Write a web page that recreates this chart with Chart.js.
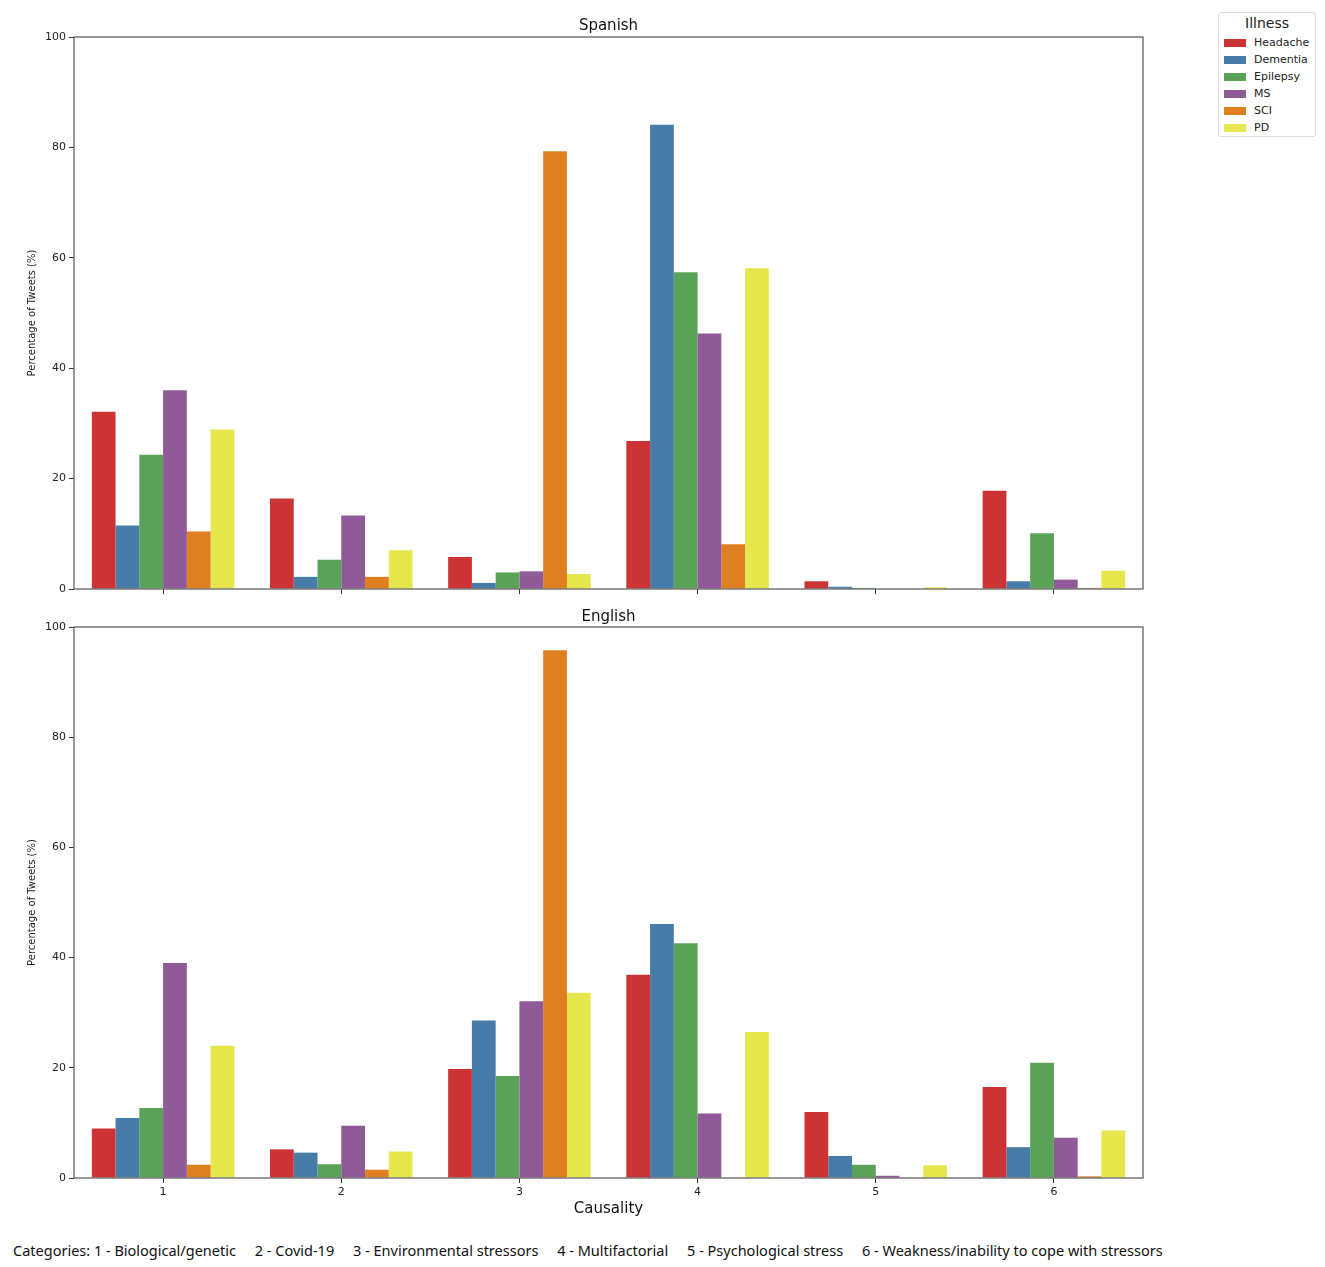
<!DOCTYPE html>
<html>
<head>
<meta charset="utf-8">
<script src="https://cdn.jsdelivr.net/npm/chart.js@4"></script>
<style>
  body { margin: 0; background: #fff; }
  #page { position: relative; width: 1325px; height: 1267px; font-family: "DejaVu Sans", sans-serif; }
  #topBox { position: absolute; left: 0; top: 0; width: 1160px; height: 600px; }
  #bottomBox { position: absolute; left: 0; top: 600px; width: 1160px; height: 622px; }
  #legend { position: absolute; left: 1218px; top: 12px; width: 98px; height: 125px; border: 1px solid #ddd; border-radius: 3px; box-sizing: border-box; }
  #legend .ttl { text-align: center; font-size: 14px; color: #222; margin-top: 2px; margin-bottom: 3px; }
  #legend .row { display: flex; align-items: center; height: 17px; font-size: 11px; color: #222; }
  #legend .sw { width: 22px; height: 8px; margin-left: 5px; margin-right: 8px; }
  #caption { position: absolute; left: 13px; top: 1240px; font-family: "Noto Sans", sans-serif; font-size: 14.5px; color: #111; white-space: pre; }
</style>
</head>
<body>
<div id="page">
  <div id="topBox"><canvas id="spanishChart"></canvas></div>
  <div id="bottomBox"><canvas id="englishChart"></canvas></div>
  <div id="legend"></div>
  <div id="caption"></div>
</div>
<script>
var causality = ['1', '2', '3', '4', '5', '6'];
var categoryNames = ['Biological/genetic', 'Covid-19', 'Environmental stressors', 'Multifactorial', 'Psychological stress', 'Weakness/inability to cope with stressors'];
var illnesses = ['Headache', 'Dementia', 'Epilepsy', 'MS', 'SCI', 'PD'];
var colors = ['#cb3335', '#477ca8', '#59a257', '#905998', '#df7f20', '#e6e64d'];
var yTicks = [0, 20, 40, 60, 80, 100];

// Spanish tweets, % per causality category
var esHeadache = [32.1, 16.4, 5.8, 26.8, 1.4, 17.8];
var esDementia = [11.5, 2.2, 1.1, 84.1, 0.4, 1.4];
var esEpilepsy = [24.3, 5.3, 3.0, 57.4, 0.2, 10.1];
var esMS       = [36.0, 13.3, 3.2, 46.3, 0.0, 1.7];
var esSCI      = [10.4, 2.2, 79.3, 8.1, 0.0, 0.2];
var esPD       = [28.9, 7.0, 2.7, 58.1, 0.3, 3.3];

// English tweets
var enHeadache = [9.0, 5.2, 19.8, 36.9, 12.0, 16.5];
var enDementia = [10.9, 4.6, 28.6, 46.1, 4.0, 5.6];
var enEpilepsy = [12.7, 2.5, 18.5, 42.6, 2.4, 20.9];
var enMS       = [39.0, 9.5, 32.1, 11.7, 0.4, 7.3];
var enSCI      = [2.4, 1.5, 95.8, 0.1, 0.0, 0.3];
var enPD       = [24.0, 4.8, 33.6, 26.5, 2.3, 8.6];

var spanishSeries = [esHeadache, esDementia, esEpilepsy, esMS, esSCI, esPD];
var englishSeries = [enHeadache, enDementia, enEpilepsy, enMS, enSCI, enPD];

// draws the full axes frame like matplotlib spines
var frame = {
    id: 'frame',
    afterDraw: function (chart) {
        var a = chart.chartArea, ctx = chart.ctx;
        ctx.save();
        ctx.strokeStyle = '#555';
        ctx.lineWidth = 1.2;
        ctx.strokeRect(a.left, a.top, a.right - a.left, a.bottom - a.top);
        ctx.restore();
    }
};

function makeDatasets(series) {
    return illnesses.map(function (name, i) {
        return {
            label: name,
            data: series[i],
            backgroundColor: colors[i],
            borderWidth: 0,
            categoryPercentage: 0.8,
            barPercentage: 1.0
        };
    });
}

function makeChart(id, title, series, opts) {
    var ctx = document.getElementById(id).getContext('2d');
    return new Chart(ctx, {
        type: 'bar',
        data: {labels: causality, datasets: makeDatasets(series)},
        plugins: [frame],
        options: {
            responsive: true,
            maintainAspectRatio: false,
            animation: false,
            layout: {padding: {left: 22, right: 17, top: 0, bottom: 0}},
            plugins: {
                legend: {display: false},
                tooltip: {enabled: false},
                title: {
                    display: true,
                    fullSize: false,
                    text: title,
                    color: '#111',
                    font: {size: 15, weight: 'normal', family: 'DejaVu Sans'},
                    padding: opts.titlePad
                }
            },
            scales: {
                x: {
                    offset: true,
                    border: {display: false},
                    grid: {offset: false, drawOnChartArea: false, drawTicks: true, tickLength: 5, color: '#333'},
                    ticks: {display: opts.showX, color: '#222', padding: 3, font: {size: 11, family: 'DejaVu Sans'}},
                    title: {display: opts.showX, text: 'Causality', color: '#111', padding: {top: 0, bottom: 4}, font: {size: 15, family: 'DejaVu Sans'}},
                    afterFit: function (s) { s.height = opts.xHeight; }
                },
                y: {
                    min: 0,
                    max: 100,
                    border: {display: false},
                    grid: {drawOnChartArea: false, drawTicks: true, tickLength: 5, color: '#333'},
                    afterBuildTicks: function (s) { s.ticks = yTicks.map(function (v) { return {value: v}; }); },
                    ticks: {color: '#222', padding: 3, font: {size: 11, family: 'DejaVu Sans'}},
                    title: {display: true, text: 'Percentage of Tweets (%)', color: '#222', font: {size: 10, family: 'DejaVu Sans'}},
                    afterFit: function (s) { s.width = 52; }
                }
            }
        }
    });
}

makeChart('spanishChart', 'Spanish', spanishSeries, {showX: false, xHeight: 11, titlePad: {top: 17, bottom: 2}});
makeChart('englishChart', 'English', englishSeries, {showX: true, xHeight: 44, titlePad: {top: 8, bottom: 1}});

// legend
var legend = document.getElementById('legend');
var html = '<div class="ttl">Illness</div>';
illnesses.forEach(function (name, i) {
    html += '<div class="row"><span class="sw" style="background:' + colors[i] + '"></span>' + name + '</div>';
});
legend.innerHTML = html;

// caption under the charts
var parts = categoryNames.map(function (n, i) { return causality[i] + ' - ' + n; });
document.getElementById('caption').textContent = 'Categories: ' + parts.join('     ');
</script>
</body>
</html>
